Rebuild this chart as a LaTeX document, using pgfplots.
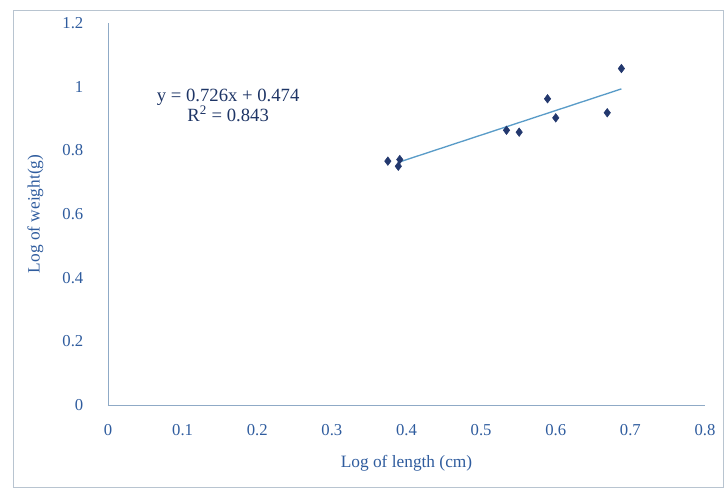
\documentclass[border=0pt]{standalone}
\usepackage{pgfplots}
\pgfplotsset{compat=1.18}
\usepackage{fontspec}
\setmainfont{Liberation Serif}
\definecolor{tickblue}{HTML}{2F5C9E}
\definecolor{eqnavy}{HTML}{1E3566}
\definecolor{axisblue}{HTML}{8FAAC6}
\definecolor{markblue}{HTML}{23386E}
\definecolor{trendblue}{HTML}{5A9CC8}
\definecolor{framegray}{HTML}{B8C4D0}
\begin{document}
\begin{tikzpicture}
\useasboundingbox (0pt,0pt) rectangle (543.75pt,367.5pt);
\draw[framegray, line width=0.6pt] (9.75pt,2.25pt) rectangle (542.25pt,360pt);
\begin{axis}[
  at={(81pt,63.75pt)}, anchor=south west,
  scale only axis,
  width=447.75pt, height=286.5pt,
  xmin=0, xmax=0.8, ymin=0, ymax=1.2,
  axis lines=left,
  axis line style={axisblue, line width=0.6pt, -},
  xtick={0,0.1,...,0.8}, ytick={0,0.2,...,1.2},
  xticklabels={0,0.1,0.2,0.3,0.4,0.5,0.6,0.7,0.8},
  yticklabels={0,0.2,0.4,0.6,0.8,1,1.2},
  major tick length=0pt,
  tick label style={font=\fontsize{12.5}{14}\selectfont, text=tickblue},
  xticklabel style={yshift=-11pt},
  yticklabel style={xshift=-15pt},
  xlabel={Log of length (cm)},
  ylabel={Log of weight(g)},
  label style={font=\fontsize{13}{15}\selectfont, text=tickblue},
  xlabel style={at={(axis description cs:0.5,0)}, yshift=-34pt, anchor=north},
  ylabel style={at={(axis description cs:0,0.5)}, yshift=45pt},
  clip=false,
]
\addplot[trendblue, line width=1pt] coordinates {(0.39,0.763) (0.688,0.993)};
\addplot[only marks, mark=diamond*, mark size=3.2pt, markblue, mark options={fill=markblue}] coordinates {
(0.375,0.766) (0.391,0.771) (0.389,0.750) (0.534,0.863) (0.551,0.857)
(0.589,0.962) (0.600,0.902) (0.669,0.918) (0.688,1.057)};
\node[text=eqnavy, font=\fontsize{14}{15}\selectfont, align=center] at (axis cs:0.161,0.94) {y = 0.726x + 0.474\\R\textsuperscript{2} = 0.843};
\end{axis}
\end{tikzpicture}
\end{document}
